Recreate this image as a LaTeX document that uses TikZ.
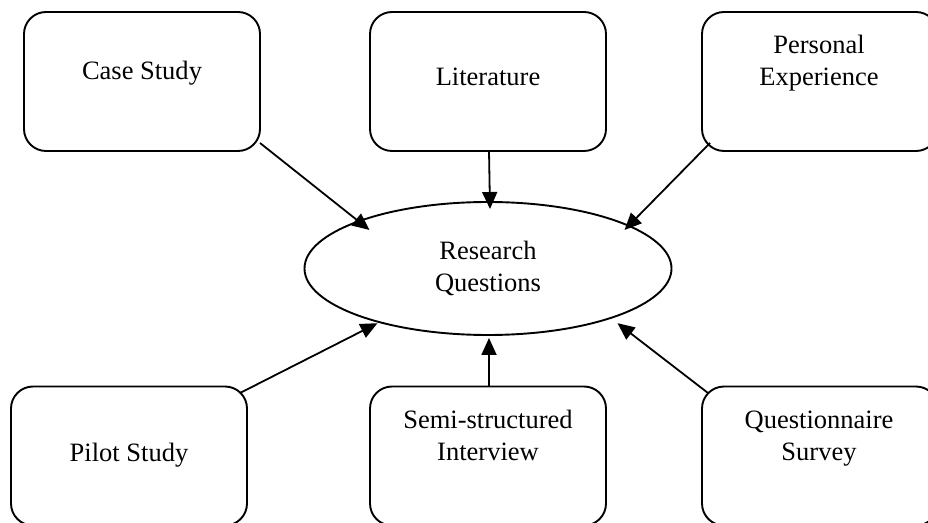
\documentclass[tikz,border=0pt]{standalone}
\usepackage{fontspec}
\setmainfont{Liberation Serif}
\usetikzlibrary{arrows.meta,shapes.geometric,calc}

\tikzset{
  srcbox/.style={draw, line width=1.9pt, rounded corners=22pt,
    minimum width=236pt, minimum height=139pt, inner sep=0pt, outer sep=0pt},
  boxtext/.style={anchor=base, align=center, inner sep=0pt,
    font=\fontsize{26.5}{32}\selectfont},
  hub/.style={draw, ellipse, line width=1.9pt, minimum width=367pt,
    minimum height=133pt, inner sep=0pt, outer sep=0pt, align=center,
    font=\fontsize{26.5}{32}\selectfont},
  feed/.style={line width=1.8pt, -{Triangle[length=17pt,width=15pt]}}
}

\begin{document}
\begin{tikzpicture}[x=1pt,y=1pt]
  \useasboundingbox (0,0) rectangle (928,522);
  \clip (0,0) rectangle (928,522);

  % central question
  \node[hub] (rq) at (488,253.5) {Research\\Questions};

  % upper sources (labels sit on the baseline of their last line)
  \node[srcbox] (cs) at (142,440.5) {};
  \node[srcbox] (lit) at (488,440.5) {};
  \node[srcbox] (pe) at (820,440.5) {};
  \node[boxtext] (cs-t) at (142,442) {Case Study};
  \node[boxtext] (lit-t) at (488,436) {Literature};
  \node[boxtext] (pe-t) at (819,436) {Personal\\Experience};

  % lower sources
  \node[srcbox] (ps) at (129,66) {};
  \node[srcbox] (ss) at (488,66) {};
  \node[srcbox] (qs) at (820,66) {};
  \node[boxtext] (ps-t) at (129,61) {Pilot Study};
  \node[boxtext] (ss-t) at (488,62) {Semi-structured\\Interview};
  \node[boxtext] (qs-t) at (819,62) {Questionnaire\\Survey};

  % feeds into the research questions
  \draw[feed] ($(cs.center)+(118,-61.5)$) -- ($(rq.center)+(-118.5,38.5)$);
  \draw[feed] ($(lit.south)+(1,0)$) -- ($(rq.center)+(2,59.5)$);
  \draw[feed] ($(pe.center)+(-110,-61.5)$) -- ($(rq.center)+(136.5,38.5)$);
  \draw[feed] ($(ps.center)+(111,63)$) -- ($(rq.center)+(-110.5,-54.7)$);
  \draw[feed] ($(ss.north)+(1,0)$) -- ($(rq.center)+(1,-69.5)$);
  \draw[feed] ($(qs.center)+(-112,63)$) -- ($(rq.center)+(129.5,-54.7)$);
\end{tikzpicture}
\end{document}
